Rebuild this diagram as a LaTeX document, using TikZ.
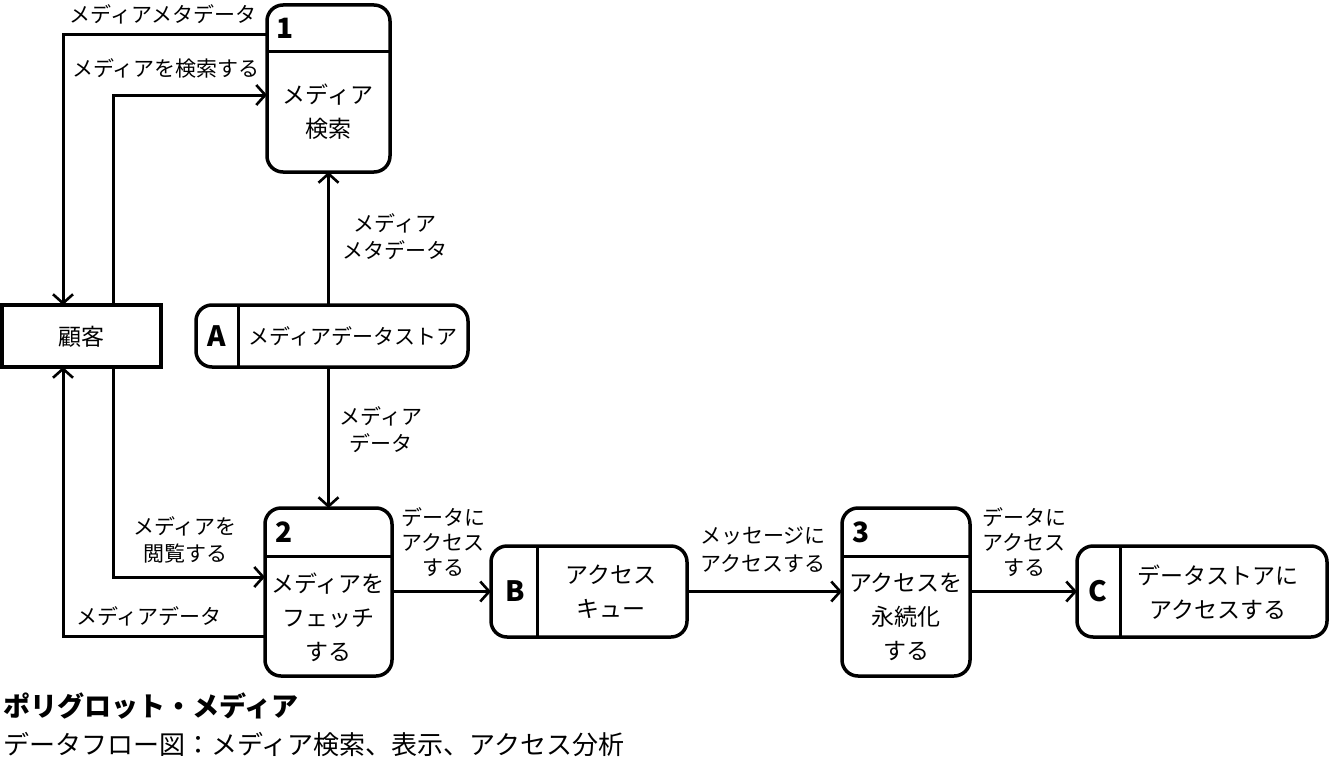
\documentclass[tikz,border=0pt]{standalone}
\usepackage{fontspec}
\setmainfont{Noto Sans CJK JP}
\usetikzlibrary{arrows.meta}
\begin{document}
\begin{tikzpicture}[x=1pt,y=-1pt,
  box/.style={draw,line width=3.5pt,inner sep=0pt,outer sep=0pt},
  rbox/.style={box,rounded corners=16pt},
  divider/.style={line width=3pt},
  arr/.style={line width=3pt,-{Straight Barb[length=9pt,width=20pt,line width=2.6pt]}},
  lbl/.style={font=\fontsize{21}{27}\selectfont,align=center,inner sep=0pt},
  txt/.style={font=\fontsize{23}{34}\selectfont,align=center,inner sep=0pt},
  num/.style={font=\fontsize{28}{30}\selectfont\bfseries,inner sep=0pt}]
\path[use as bounding box] (0,0) rectangle (1329,760);
% helper coordinates
\coordinate (y35) at (0,35);
\coordinate (y52) at (0,52);
\coordinate (y95) at (0,95);
\coordinate (y556) at (0,556);
\coordinate (y577) at (0,577);
\coordinate (y636) at (0,636);
\coordinate (x63) at (63,0);
\coordinate (x113) at (113,0);
\coordinate (xA) at (238,0);
\coordinate (xB) at (537,0);
\coordinate (xC) at (1120,0);
% nodes
\node[rbox,minimum width=123pt,minimum height=167pt] (p1) at (328.5,88.5) {};
\node[rbox,minimum width=127pt,minimum height=168pt] (p2) at (328.5,592) {};
\node[rbox,minimum width=128pt,minimum height=168pt] (p3) at (906,592) {};
\node[box,minimum width=159pt,minimum height=62pt] (cust) at (81.5,336) {};
\node[rbox,minimum width=272pt,minimum height=62pt] (dsA) at (332,336) {};
\node[rbox,minimum width=196pt,minimum height=91pt] (dsB) at (589,591.5) {};
\node[rbox,minimum width=250pt,minimum height=91pt] (dsC) at (1202,591.5) {};
% header / divider lines
\draw[divider] (p1.west |- y52) -- (p1.east |- y52);
\draw[divider] (p2.west |- y556) -- (p2.east |- y556);
\draw[divider] (p3.west |- y556) -- (p3.east |- y556);
\draw[divider] (dsA.north -| xA) -- (dsA.south -| xA);
\draw[divider] (dsB.north -| xB) -- (dsB.south -| xB);
\draw[divider] (dsC.north -| xC) -- (dsC.south -| xC);
% numbers
\node[num] (n1) at (285,28) {1};
\node[num] (n2) at (284,532) {2};
\node[num] (n3) at (861,532) {3};
\node[num] (nA) at (217,336) {A};
\node[num] (nB) at (515,591) {B};
\node[num] (nC) at (1098,591) {C};
% box texts
\node[txt] (t1) at (328,112) {メディア\\検索};
\node[txt] (t2) at (328,617) {メディアを\\フェッチ\\する};
\node[txt] (t3) at (906,617) {アクセスを\\永続化\\する};
\node[txt] (tc) at (81.5,337) {顧客};
\node[txt,font=\fontsize{21}{30}\selectfont] (tA) at (353,336) {メディアデータストア};
\node[txt] (tB) at (611,592) {アクセス\\キュー};
\node[txt] (tC) at (1218,592) {データストアに\\アクセスする};
% connectors
\draw[arr] (p1.west |- y35) -| (cust.north -| x63);
\draw[arr] (cust.north -| x113) |- (p1.west |- y95);
\draw[arr] (dsA.north -| p1.south) -- (p1.south);
\draw[arr] (dsA.south -| p2.north) -- (p2.north);
\draw[arr] (cust.south -| x113) |- (p2.west |- y577);
\draw[arr] (p2.west |- y636) -| (cust.south -| x63);
\draw[arr] (p2.east |- dsB.west) -- (dsB.west);
\draw[arr] (dsB.east) -- (p3.west |- dsB.east);
\draw[arr] (p3.east |- dsC.west) -- (dsC.west);
% labels
\node[lbl] (l1) at (163,14) {メディアメタデータ};
\node[lbl] (l2) at (166,68) {メディアを検索する};
\node[lbl] (l3) at (395,237) {メディア\\メタデータ};
\node[lbl] (l4) at (381,430) {メディア\\データ};
\node[lbl] (l5) at (185,540) {メディアを\\閲覧する};
\node[lbl] (l6) at (149,616) {メディアデータ};
\node[lbl,font=\fontsize{21}{25}\selectfont] (l7) at (443,542) {データに\\アクセス\\する};
\node[lbl,font=\fontsize{21}{28}\selectfont] (l8) at (763,550) {メッセージに\\アクセスする};
\node[lbl,font=\fontsize{21}{25}\selectfont] (l9) at (1024,542) {データに\\アクセス\\する};
% title
\node[anchor=west,inner sep=0pt,font=\fontsize{27}{30}\selectfont\bfseries] (title) at (3,706) {ポリグロット・メディア};
\node[anchor=west,inner sep=0pt,font=\fontsize{26}{30}\selectfont] (sub) at (3,745) {データフロー図：メディア検索、表示、アクセス分析};
\end{tikzpicture}
\end{document}
